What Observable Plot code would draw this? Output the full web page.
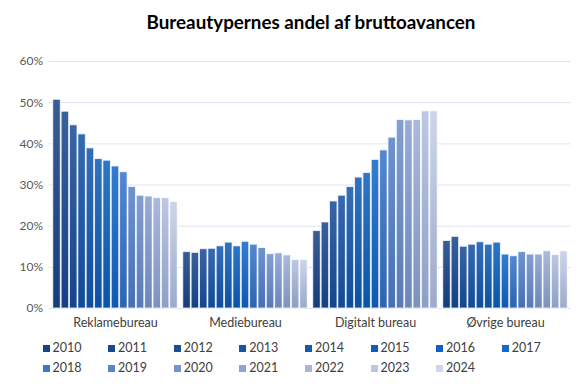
<!DOCTYPE html>
<html>
<head>
<meta charset="utf-8">
<script src="https://cdn.jsdelivr.net/npm/d3@7"></script>
<script src="https://cdn.jsdelivr.net/npm/@observablehq/plot@0.6"></script>
<style>
  html, body { margin: 0; padding: 0; background: #fff; }
  body { width: 580px; height: 384px; overflow: hidden; font-family: Lato, "Open Sans", sans-serif; }
  #title { height: 44px; line-height: 44px; text-align: center; font-weight: bold; font-size: 18.8px; color: #000; padding-left: 42px; box-sizing: border-box; }
  #chart { height: 292px; }
  #legend { position: relative; height: 48px; }
  .item { position: absolute; font-size: 12.5px; color: #404040; line-height: 16px; white-space: nowrap; }
  .sw { display: inline-block; width: 7px; height: 7px; margin-right: 3px; vertical-align: 0px; }
</style>
</head>
<body>
<div id="title">Bureautypernes andel af bruttoavancen</div>
<div id="chart"></div>
<div id="legend"></div>
<script>
const categories = ["Reklamebureau", "Mediebureau", "Digitalt bureau", "Øvrige bureau"];
const years = ["2010","2011","2012","2013","2014","2015","2016","2017","2018","2019","2020","2021","2022","2023","2024"];
const reklame = [50.7,47.8,44.5,42.3,38.9,36.3,35.9,34.5,33.1,29.5,27.4,27.2,26.8,26.8,25.9];
const medie   = [13.7,13.5,14.4,14.5,15.1,16.0,15.1,16.2,15.5,14.7,13.2,13.4,12.9,11.8,11.8];
const digital = [18.8,20.9,26.0,27.4,29.5,31.8,32.9,36.1,38.4,41.5,45.8,45.7,45.8,47.9,47.9];
const ovrige  = [16.4,17.4,15.0,15.5,16.1,15.5,16.0,13.1,12.7,13.7,13.1,13.1,13.9,13.0,13.9];
const yTicks = [0,0.1,0.2,0.3,0.4,0.5,0.6];
const colors = ["#1a4383","#1b488d","#1a4e99","#1654a5","#1259b0","#0e5dba","#0b62c4","#1469cd","#3b77cb","#5a86cc","#7594cf","#8ea4d4","#a5b5db","#bbc6e3","#ced6ec"];

const series = [reklame, medie, digital, ovrige];
const data = categories.flatMap((c, ci) => years.map((y, yi) => ({category: c, year: y, value: series[ci][yi] / 100})));

const chart = Plot.plot({
  width: 580,
  height: 292,
  marginTop: 17,
  marginLeft: 50,
  marginRight: 10,
  marginBottom: 28,
  style: {fontFamily: "Lato, 'Open Sans', sans-serif", background: "#fff", overflow: "visible"},
  fx: {domain: categories, paddingInner: 0.04, paddingOuter: 0.02, round: false, label: null},
  x: {domain: years, paddingInner: 0.1, paddingOuter: 0.02, round: false, axis: null},
  y: {domain: [0, 0.6], label: null},
  color: {domain: years, range: years.map((_, i) => `url(#grad${i})`)},
  marks: [
    // continuous gridlines: left-anchored ticks stretched across all groups
    Plot.axisY(yTicks, {anchor: "left", tickSize: -522, dx: -4, text: null, stroke: "#dbe3f3", strokeOpacity: 1, label: null}),
    Plot.axisY(yTicks, {anchor: "left", tickFormat: d3.format(".0%"), tickSize: 0, tickPadding: 10, fontSize: 12, fill: "#595959", label: null}),
    Plot.barY(data, {fx: "category", x: "year", y: "value", fill: "year", stroke: "#ffffff", strokeOpacity: 0.75, strokeWidth: 1}),
    Plot.axisFx({anchor: "bottom", tickSize: 0, tickPadding: 10, fontSize: 12.5, fill: "#404040", label: null})
  ]
});

// gradient definitions for the bar fills
const ns = "http://www.w3.org/2000/svg";
const defs = document.createElementNS(ns, "defs");
colors.forEach((c, i) => {
  const g = document.createElementNS(ns, "linearGradient");
  g.setAttribute("id", `grad${i}`);
  g.setAttribute("x1", "0"); g.setAttribute("y1", "0");
  g.setAttribute("x2", "0"); g.setAttribute("y2", "1");
  const top = d3.interpolateRgb(c, "#c8d0e0")(0.18);
  const bot = d3.interpolateRgb(c, "#002a66")(0.25);
  [[0, top], [1, bot]].forEach(([o, col]) => {
    const s = document.createElementNS(ns, "stop");
    s.setAttribute("offset", o);
    s.setAttribute("stop-color", col);
    g.appendChild(s);
  });
  defs.appendChild(g);
});
chart.insertBefore(defs, chart.firstChild);
document.getElementById("chart").appendChild(chart);

const legend = document.getElementById("legend");
years.forEach((y, i) => {
  const d = document.createElement("div");
  d.className = "item";
  d.style.left = (42.5 + (i % 8) * 65.6) + "px";
  d.style.top = (4 + Math.floor(i / 8) * 20) + "px";
  d.innerHTML = `<span class="sw" style="background:${colors[i]}"></span>${y}`;
  legend.appendChild(d);
});
</script>
</body>
</html>
